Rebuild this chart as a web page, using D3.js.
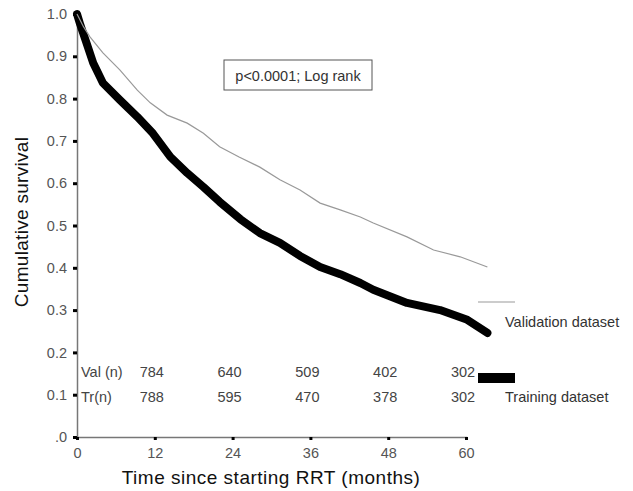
<!DOCTYPE html>
<html><head><meta charset="utf-8">
<script src="https://cdn.jsdelivr.net/npm/d3@7"></script>
<style>body{margin:0;background:#fff}svg{display:block}</style>
</head><body>
<script>
const valTime = [0,1,2,4,6.6,9.3,11.3,13.9,17,19.5,22,25,28.2,31.3,34.4,37.5,40.6,43.7,45.7,50.9,55,59.1,63.3];
const valSurv = [1.0,0.97,0.946,0.908,0.868,0.82,0.79,0.761,0.742,0.718,0.686,0.662,0.638,0.608,0.584,0.553,0.537,0.52,0.506,0.473,0.442,0.426,0.402];
const trTime = [0,0.5,1.5,2.5,4,6.6,9.3,11.7,14.4,17,19.5,22,25.2,28.2,31.3,34.4,37.5,40.6,43.7,45.7,50.9,56,60.2,63.3];
const trSurv = [1.0,0.975,0.93,0.884,0.837,0.797,0.757,0.718,0.662,0.624,0.591,0.556,0.515,0.482,0.459,0.428,0.402,0.385,0.364,0.348,0.317,0.30,0.277,0.246];
const xTicks = [0,12,24,36,48,60];
const yTicks = [0,0.1,0.2,0.3,0.4,0.5,0.6,0.7,0.8,0.9,1.0];
const yTickLabels = [".0","0.1","0.2","0.3","0.4","0.5","0.6","0.7","0.8","0.9","1.0"];
const valN = [784,640,509,402,302];
const trN = [788,595,470,378,302];
const nTimes = [12,24,36,48,60];

const W=633,H=491;
const FONT="Arial, 'Liberation Sans', sans-serif";
const svg=d3.select("body").append("svg").attr("width",W).attr("height",H)
  .style("font-family",FONT);
const x=d3.scaleLinear().domain([0,60]).range([77,466]);
const y=d3.scaleLinear().domain([0,1]).range([437,14]);

// axes
const ya=svg.append("g").attr("transform","translate(77,0)")
  .call(d3.axisLeft(y).tickValues(yTicks).tickSize(4).tickPadding(6)
    .tickFormat((d,i)=>yTickLabels[i]));
const xa=svg.append("g").attr("transform","translate(0,437)")
  .call(d3.axisBottom(x).tickValues(xTicks).tickSize(3).tickPadding(8));
[ya,xa].forEach(g=>{
  g.select(".domain").attr("stroke","#777").attr("stroke-width",1.5);
  g.selectAll(".tick line").attr("stroke","#000").attr("stroke-width",3);
  g.selectAll(".tick text").attr("fill","#555").style("font-size","14.5px").style("font-family",FONT);
});

// curves
const line=d3.line().x(d=>x(d[0])).y(d=>y(d[1]));
svg.append("path").datum(trTime.map((t,i)=>[t,trSurv[i]]))
  .attr("d",line).attr("fill","none").attr("stroke","#000").attr("stroke-width",8)
  .attr("stroke-linejoin","round").attr("stroke-linecap","round");
svg.append("path").datum(valTime.map((t,i)=>[t,valSurv[i]]))
  .attr("d",line).attr("fill","none").attr("stroke","#999").attr("stroke-width",1.2);

// p-value box
svg.append("rect").attr("x",224).attr("y",60).attr("width",148).attr("height",30)
  .attr("fill","#fff").attr("stroke","#555").attr("stroke-width",1);
svg.append("text").attr("x",298).attr("y",80.5).attr("text-anchor","middle")
  .attr("fill","#333").style("font-size","14.5px").text("p<0.0001; Log rank");

// at-risk numbers
const sm="14.5px";
svg.append("text").attr("x",81).attr("y",377).attr("fill","#444").style("font-size",sm).text("Val (n)");
svg.append("text").attr("x",81).attr("y",402).attr("fill","#444").style("font-size",sm).text("Tr(n)");
svg.selectAll(".vn").data(valN).enter().append("text")
  .attr("x",(d,i)=>x(nTimes[i])-3).attr("y",377).attr("text-anchor","middle")
  .attr("fill","#444").style("font-size",sm).text(d=>d);
svg.selectAll(".tn").data(trN).enter().append("text")
  .attr("x",(d,i)=>x(nTimes[i])-3).attr("y",402).attr("text-anchor","middle")
  .attr("fill","#444").style("font-size",sm).text(d=>d);

// legend
svg.append("line").attr("x1",478).attr("x2",515).attr("y1",302).attr("y2",302)
  .attr("stroke","#999").attr("stroke-width",1.2);
svg.append("text").attr("x",505).attr("y",327).attr("fill","#333").style("font-size",sm).text("Validation dataset");
svg.append("rect").attr("x",478).attr("y",373).attr("width",37).attr("height",10).attr("fill","#000");
svg.append("text").attr("x",505).attr("y",402).attr("fill","#333").style("font-size",sm).text("Training dataset");

// axis titles
svg.append("text").attr("transform","translate(28,222) rotate(-90)").attr("text-anchor","middle")
  .attr("fill","#111").style("font-size","19px").style("letter-spacing","0.3px").text("Cumulative survival");
svg.append("text").attr("x",271).attr("y",484).attr("text-anchor","middle")
  .attr("fill","#111").style("font-size","19px").style("letter-spacing","0.5px").text("Time since starting RRT (months)");
</script>
</body></html>
